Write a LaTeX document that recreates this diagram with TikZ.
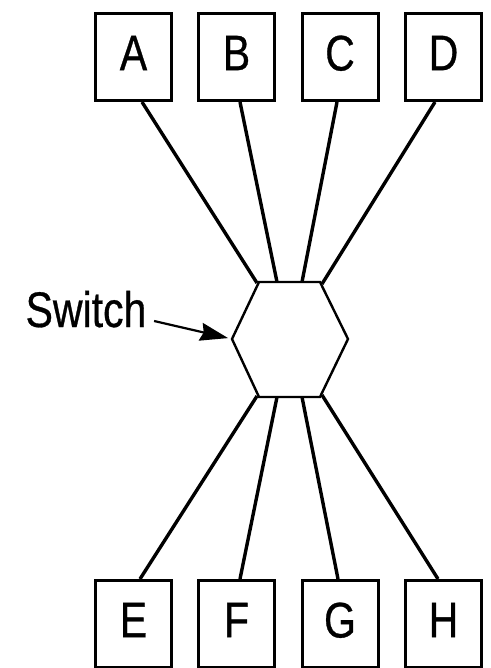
\documentclass[tikz,border=0pt]{standalone}
\usepackage{fontspec}
\newfontfamily\labelfont[FakeStretch=0.82,FakeBold=0.6]{Liberation Sans}
\usetikzlibrary{arrows.meta}

\begin{document}
\begin{tikzpicture}[x=0.5pt,y=-0.5pt,line width=1.7pt,font=\labelfont\fontsize{25}{29}\selectfont,
  station/.style={draw,line width=1.5pt,minimum width=38pt,minimum height=43.5pt,inner sep=0pt,text depth=4pt}]
  \useasboundingbox (0,0) rectangle (491,668);
  % top stations
  \node[station] (A) at (133.5,57) {A};
  \node[station] (B) at (236.5,57) {B};
  \node[station] (C) at (340,57) {C};
  \node[station] (D) at (443.5,57) {D};
  % bottom stations
  \node[station] (E) at (133.5,624) {E};
  \node[station] (F) at (236.5,624) {F};
  \node[station] (G) at (340,624) {G};
  \node[station] (H) at (443.5,624) {H};

  % switch hexagon
  \coordinate (S1) at (259,282);
  \coordinate (S2) at (320,282);
  \coordinate (S3) at (348,339);
  \coordinate (S4) at (320,397);
  \coordinate (S5) at (259,397);
  \coordinate (S6) at (232,339);
  \draw[line width=1.2pt,line join=miter] (S1)--(S2)--(S3)--(S4)--(S5)--(S6)--cycle;

  % ports on the switch
  \coordinate (pA) at (257,283);
  \coordinate (pB) at (277,282);
  \coordinate (pC) at (302,282);
  \coordinate (pD) at (322,284);
  \coordinate (pE) at (257,396);
  \coordinate (pF) at (277,397);
  \coordinate (pG) at (302,397);
  \coordinate (pH) at (322,395);

  \draw ([xshift=4.25pt]A.south)--(pA);
  \draw ([xshift=1.75pt]B.south)--(pB);
  \draw ([xshift=-1.5pt]C.south)--(pC);
  \draw ([xshift=-4.25pt]D.south)--(pD);
  \draw ([xshift=3.25pt]E.north)--(pE);
  \draw ([xshift=1.75pt]F.north)--(pF);
  \draw ([xshift=-1pt]G.north)--(pG);
  \draw ([xshift=-2.75pt]H.north)--(pH);

  % label
  \node[anchor=base,inner sep=0pt] (switch) at (86,327) {Switch};
  \draw[line width=1.1pt,-{Stealth[length=14pt,width=9pt,inset=1.5pt]},shorten >=2pt]
    ([xshift=3pt,yshift=3pt]switch.base east)--(S6);
\end{tikzpicture}
\end{document}
